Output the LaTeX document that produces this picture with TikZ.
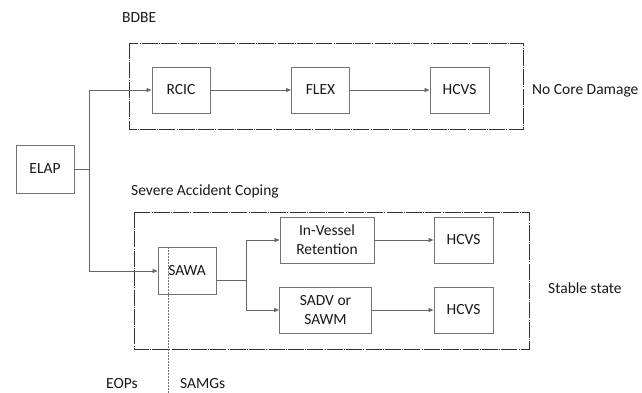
\documentclass[tikz,border=0pt]{standalone}
\usepackage{fontspec}
\setmainfont{Carlito}
\usetikzlibrary{arrows.meta}
\begin{document}
\begin{tikzpicture}[x=1pt,y=-1pt,
  lbl/.style={font=\fontsize{15.5}{19}\selectfont, text=black!90, inner sep=0pt},
  blk/.style={draw=black!55, line width=0.9pt, fill=white, align=center, font=\fontsize{15.5}{19}\selectfont, text=black!90, inner sep=0pt},
  grp/.style={draw=black!80, line width=0.9pt, dash pattern=on 16pt off 1.2pt on 1pt off 1.2pt},
  conn/.style={draw=black!60, line width=0.8pt},
  arr/.style={conn, -{Triangle[length=5pt,width=4pt]}}]
\useasboundingbox (0,0) rectangle (642,393);
% group boxes
\draw[grp] (129,43) rectangle (523,129);
\draw[grp] (134,212) rectangle (529,349);
% nodes
\node[blk, minimum width=58pt, minimum height=48pt] (elap) at (45,169) {ELAP};
\node[blk, minimum width=58pt, minimum height=46pt] (rcic) at (181,90) {RCIC};
\node[blk, minimum width=58pt, minimum height=46pt] (flex) at (320.5,90) {FLEX};
\node[blk, minimum width=59pt, minimum height=46pt] (hcvs1) at (459.5,90) {HCVS};
\node[blk, minimum width=58pt, minimum height=47pt] (sawa) at (187,271) {SAWA};
\node[blk, minimum width=94pt, minimum height=46pt] (ivr) at (327,240) {In-Vessel\\Retention};
\node[blk, minimum width=92pt, minimum height=46pt] (sadv) at (325.5,310) {SADV or\\SAWM};
\node[blk, minimum width=59pt, minimum height=46pt] (hcvs2) at (463.5,240) {HCVS};
\node[blk, minimum width=59pt, minimum height=46pt] (hcvs3) at (463.5,310) {HCVS};
% labels
\node[lbl, anchor=west] (bdbe) at (122,18) {BDBE};
\node[lbl, anchor=west] (ncd) at (532,91) {No Core Damage};
\node[lbl, anchor=west] (sac) at (131,191) {Severe Accident Coping};
\node[lbl, anchor=west] (ss) at (548,288) {Stable state};
\node[lbl, anchor=west] (eops) at (106,384) {EOPs};
\node[lbl, anchor=west] (samgs) at (180,384) {SAMGs};
% connectors
\coordinate (j) at (89,169);
\draw[conn] (elap.east) -- (j);
\draw[arr] (j) |- (rcic.west);
\draw[arr] (j) |- (sawa.west);
\draw[arr] (rcic) -- (flex);
\draw[arr] (flex) -- (hcvs1);
\coordinate (b) at (246,280);
\draw[conn] (sawa.east |- b) -- (b);
\draw[arr] (b) |- (ivr.west);
\draw[arr] (b) |- (sadv.west);
\draw[arr] (ivr) -- (hcvs2);
\draw[arr] (sadv) -- (hcvs3);
% divider
\coordinate (dend) at (168,393);
\draw[black!55, line width=0.8pt, dash pattern=on 1.5pt off 1.5pt] (sawa.north -| dend) -- (dend);
\end{tikzpicture}
\end{document}
